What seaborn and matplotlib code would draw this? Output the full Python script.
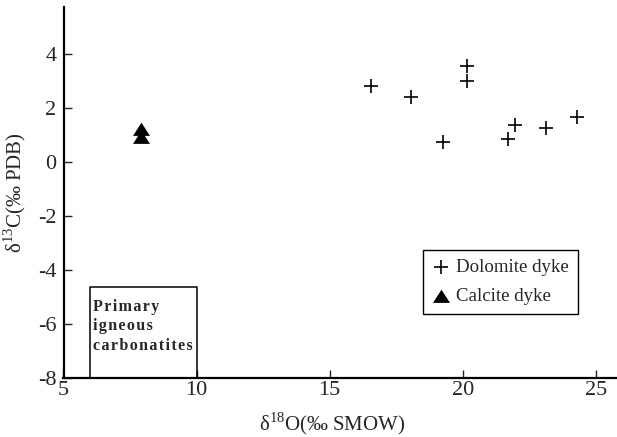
import matplotlib
matplotlib.use("Agg")
import matplotlib.pyplot as plt
import seaborn as sns
import pandas as pd
import numpy as np

# Data
dolomite_d18O = [16.56, 18.06, 20.18, 20.16, 19.28, 21.72, 21.97, 23.14, 24.29]
dolomite_d13C = [2.81, 2.40, 3.52, 3.00, 0.73, 0.84, 1.34, 1.24, 1.66]
calcite_d18O = [7.92, 7.92]
calcite_d13C = [1.22, 0.93]
x_ticks = [5, 10, 15, 20, 25]
y_ticks = [-8, -6, -4, -2, 0, 2, 4]
box_x = [6, 10]
box_y = [-8, -4.65]
box_label = ["Primary", "igneous", "carbonatites"]

sns.set_style("ticks")
plt.rcParams['font.family'] = ['Liberation Serif', 'DejaVu Serif']
plt.rcParams['mathtext.fontset'] = 'custom'
plt.rcParams['mathtext.rm'] = 'Liberation Serif'
plt.rcParams['axes.unicode_minus'] = False

dol = pd.DataFrame({"x": dolomite_d18O, "y": dolomite_d13C})
cal = pd.DataFrame({"x": calcite_d18O, "y": calcite_d13C})

fig = plt.figure(figsize=(6.17, 4.37), dpi=100)
ax = fig.add_axes([63.5/617, (437-378)/437, (617-63.5)/617, (378-7)/437])

tri = [(-1, -0.75), (1, -0.75), (0, 0.8), (-1, -0.75)]

sns.scatterplot(data=dol, x="x", y="y", marker="+", color="black", s=110,
                linewidth=1.2, ax=ax, label="Dolomite dyke", zorder=3)
sns.scatterplot(data=cal, x="x", y="y", marker=tri, color="black", s=150,
                edgecolor="black", linewidth=0, ax=ax, label="Calcite dyke", zorder=3)

# Primary igneous carbonatites box
ax.plot([box_x[0], box_x[0], box_x[1], box_x[1]],
        [box_y[0], box_y[1], box_y[1], box_y[0]], color="black", lw=1.1,
        clip_on=False, zorder=2)
hair = "\u200a"
spaced = "\n".join(hair.join(list(w)) for w in box_label)
ax.text(box_x[0] + 0.1, box_y[1] - 0.42, spaced,
        fontsize=11.5, fontweight="bold", va="top", ha="left", linespacing=1.3,
        family=['Liberation Serif', 'DejaVu Serif'])

ax.set_xlim(5, 25.8)
ax.set_ylim(-8, 5.72)
ax.set_xticks(x_ticks)
ax.set_yticks(y_ticks)
ax.tick_params(direction="in", length=6, width=1.0, labelsize=16)
ax.tick_params(axis="x", pad=2)
ax.tick_params(axis="y", pad=5)
for s in ["left", "bottom"]:
    ax.spines[s].set_linewidth(1.6)
    ax.spines[s].set_color("black")
sns.despine(ax=ax)

ax.set_xlabel("δ$^{18}$O(‰ SMOW)", fontsize=15)
ax.set_ylabel("δ$^{13}$C(‰ PDB)", fontsize=15, labelpad=7)
ax.xaxis.set_label_coords(0.486, -0.088)

leg = ax.legend(loc="upper left", bbox_to_anchor=(0.65, 0.345), borderaxespad=0,
                fancybox=False, edgecolor="black", framealpha=1, fontsize=13.6,
                handletextpad=0.3, labelspacing=0.65, borderpad=0.45,
                handlelength=1.0)
leg.get_frame().set_linewidth(1.0)

fig.savefig("out.png", dpi=100)
